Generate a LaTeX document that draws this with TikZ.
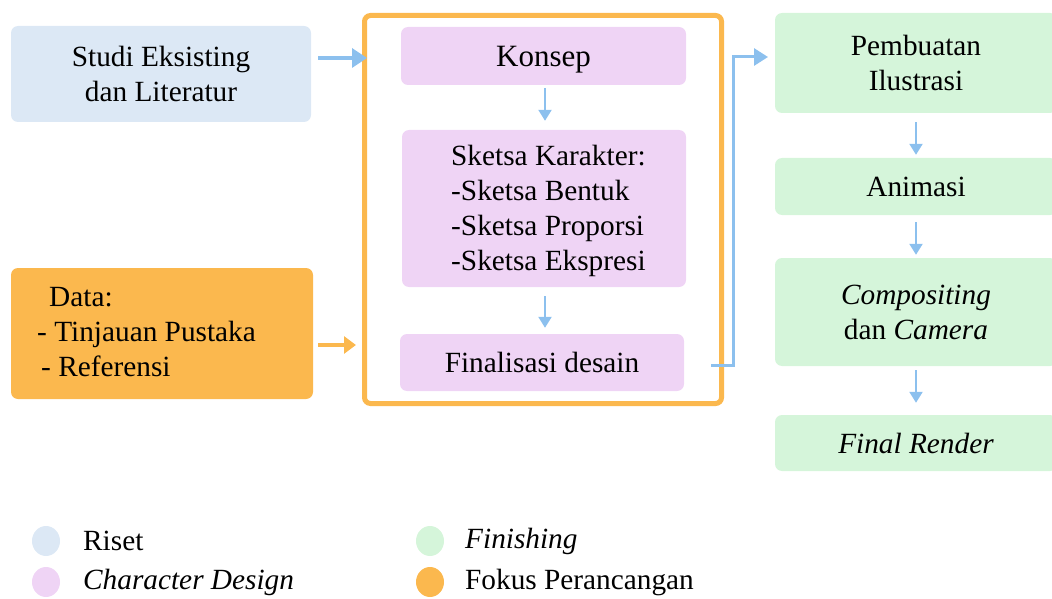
\documentclass[tikz,border=0pt]{standalone}
\usepackage{fontspec}
\setmainfont{Liberation Serif}
\usetikzlibrary{arrows.meta,calc,shapes.geometric}
\definecolor{riset}{HTML}{DCE8F5}
\definecolor{fokus}{HTML}{FBB84E}
\definecolor{cdes}{HTML}{EFD4F5}
\definecolor{finc}{HTML}{D5F5DA}
\definecolor{arrblue}{HTML}{8CC0EE}
\newcommand{\mainsize}{\fontsize{29.3}{35}\selectfont}
\begin{document}
\begin{tikzpicture}[x=1pt,y=-1pt,
  box/.style={rectangle,rounded corners=7pt,inner sep=0pt,align=center,
    font=\mainsize},
  risetbox/.style={box,fill=riset},
  fokusbox/.style={box,fill=fokus},
  cdbox/.style={box,fill=cdes},
  finbox/.style={box,fill=finc},
  bigarrow/.style={line width=3.5pt,-{Triangle[length=14pt,width=17pt]}},
  smallarrow/.style={draw=arrblue,line width=2.2pt,-{Triangle[length=11pt,width=13pt]}},
  legdot/.style={ellipse,minimum width=28pt,minimum height=30pt,inner sep=0pt},
  legtext/.style={anchor=west,inner sep=0pt,font=\mainsize}
]
\useasboundingbox (0,0) rectangle (1052,599);

% left boxes
\node[risetbox,minimum width=300pt,minimum height=96pt] (studi) at (161,74) {Studi Eksisting\\dan Literatur};
\node[fokusbox,minimum width=302pt,minimum height=131pt] (data) at (162,333.5) {};
\node[anchor=west,inner sep=0pt,align=left,font=\mainsize] (datatxt) at (37,332) {\hspace{12pt}Data:\\- Tinjauan Pustaka\\\hspace{4pt}- Referensi};

% frame
\node[draw=fokus,line width=5pt,rounded corners=6pt,minimum width=357pt,minimum height=388pt,inner sep=0pt] (frame) at (543,209.5) {};

% character design boxes
\node[cdbox,minimum width=285pt,minimum height=58pt,font=\fontsize{31}{36}\selectfont] (konsep) at (543.5,56) {\raisebox{-10.5pt}[0pt][0pt]{Konsep}};
\node[cdbox,minimum width=284pt,minimum height=157pt] (sketsa) at (544,208.5) {};
\node[anchor=west,inner sep=0pt,align=left,font=\mainsize] (sketsatxt) at (451,211) {Sketsa Karakter:\\-Sketsa Bentuk\\-Sketsa Proporsi\\-Sketsa Ekspresi};
\node[cdbox,minimum width=284pt,minimum height=57pt] (final) at (542,362.5) {Finalisasi desain};

% finishing boxes
\node[finbox,minimum width=282pt,minimum height=100pt] (pemb) at (916,63) {Pembuatan\\Ilustrasi};
\node[finbox,minimum width=282pt,minimum height=57pt] (anim) at (916,186.5) {Animasi};
\node[finbox,minimum width=282pt,minimum height=108pt] (comp) at (916,312) {\textit{Compositing}\\dan \textit{Camera}};
\node[finbox,minimum width=282pt,minimum height=56pt] (rend) at (916,443) {\textit{Final Render}};

% connectors
\coordinate (a1) at (318,58);
\draw[bigarrow,draw=arrblue,-{Triangle[length=15pt,width=19pt]}] (a1) -- ($(a1 -| frame.west)+(5,0)$);
\coordinate (a2) at (318,345);
\draw[bigarrow,draw=fokus,-{Triangle[length=12pt,width=17pt]}] (a2) -- ($(a2 -| frame.west)+(-6,0)$);
\draw[smallarrow] ($(konsep.south)+(1.5,3)$) -- ($(sketsa.north)+(1,-9)$);
\draw[smallarrow] ($(sketsa.south)+(1,9)$) -- ($(final.north)+(3,-6)$);
\coordinate (f1) at (711,365);
\coordinate (p1) at (768,57);
\draw[draw=arrblue,line width=3pt,-{Triangle[length=14pt,width=17pt]}] (f1) -- ++(22,0) |- (p1);
\draw[smallarrow] ($(pemb.south)+(0,9)$) -- ($(anim.north)+(0,-3)$);
\draw[smallarrow] ($(anim.south)+(0,7)$) -- ($(comp.north)+(0,-3)$);
\draw[smallarrow] ($(comp.south)+(0,4)$) -- ($(rend.north)+(0,-12)$);

% legend
\node[legdot,fill=riset] (l1) at (46,541) {};
\node[legtext] (t1) at (83,541) {Riset};
\node[legdot,fill=cdes] (l2) at (46,582) {};
\node[legtext] (t2) at (83,582) {\textit{Character Design}};
\node[legdot,fill=finc] (l3) at (430,541) {};
\node[legtext] (t3) at (465,541) {\textit{Finishing}};
\node[legdot,fill=fokus] (l4) at (430,582) {};
\node[legtext] (t4) at (465,582) {Fokus Perancangan};
\end{tikzpicture}
\end{document}
